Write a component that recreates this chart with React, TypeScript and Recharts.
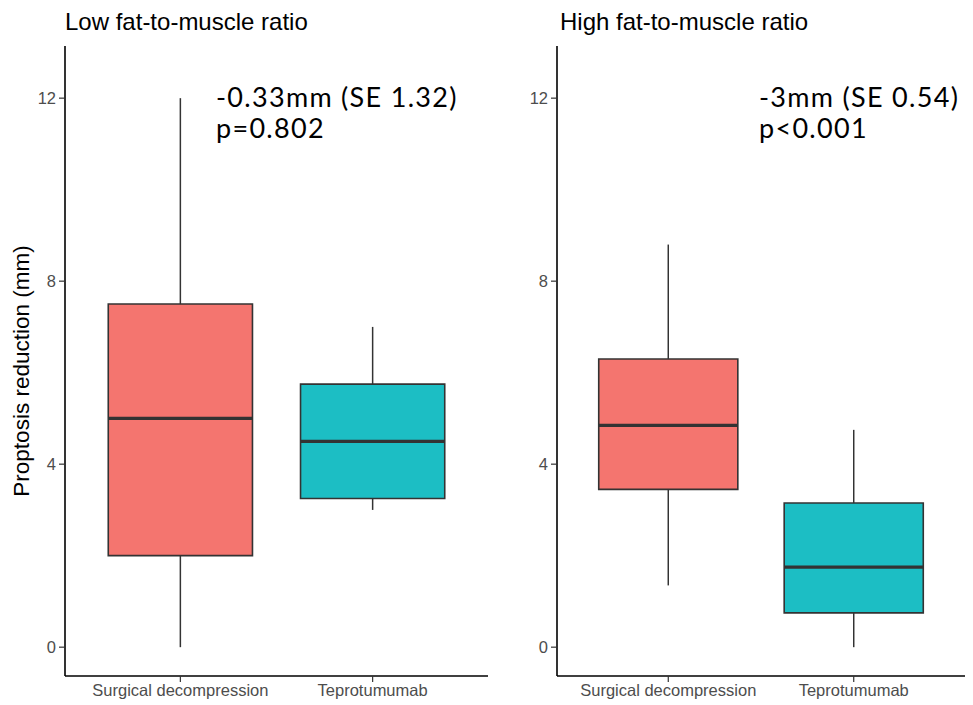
import React from 'react';
import { ComposedChart, XAxis, YAxis, Scatter, ReferenceArea, ReferenceLine } from 'recharts';

// categories and tick labels
const groups = ['Surgical decompression', 'Teprotumumab'];
const yTicks = [0, 4, 8, 12];
const fills = ['#F4756F', '#1CBEC4'];

// low fat-to-muscle ratio (per group: surgical, teprotumumab)
const lowMin = [0, 3];
const lowQ1 = [2, 3.25];
const lowMedian = [5, 4.5];
const lowQ3 = [7.5, 5.75];
const lowMax = [12, 7];

// high fat-to-muscle ratio
const highMin = [1.35, 0];
const highQ1 = [3.45, 0.75];
const highMedian = [4.85, 1.75];
const highQ3 = [6.3, 3.15];
const highMax = [8.8, 4.75];

const FONT = '"Liberation Sans", Arial, sans-serif';
const NOTE_FONT = 'Lato, "Noto Sans", sans-serif';
const HALF = 0.375; // half box width in category units

interface PanelProps {
  mins: number[];
  q1: number[];
  medians: number[];
  q3: number[];
  maxs: number[];
  width: number;
  marginLeft: number;
  marginRight: number;
}

const BoxPanel: React.FC<PanelProps> = ({ mins, q1, medians, q3, maxs, width, marginLeft, marginRight }) => {
  const points = groups.map((g, i) => ({ x: i + 1, y: medians[i], name: g }));
  return (
    <ComposedChart
      width={width}
      height={705}
      data={points}
      margin={{ top: 46, right: marginRight, bottom: 0, left: marginLeft }}
    >
      <XAxis
        type="number"
        dataKey="x"
        domain={[0.4, 2.6]}
        ticks={[1, 2]}
        allowDataOverflow
        tickFormatter={(v: number) => groups[v - 1]}
        height={29}
        axisLine={{ stroke: '#000', strokeWidth: 1.6 }}
        tickLine={{ stroke: '#333', strokeWidth: 1.2 }}
        tickSize={6}
        tickMargin={2}
        tick={{ fill: '#4d4d4d', fontSize: 16.5, fontFamily: FONT }}
      />
      <YAxis
        type="number"
        dataKey="y"
        domain={[-0.63, 13.14]}
        ticks={yTicks}
        allowDataOverflow
        width={30}
        axisLine={{ stroke: '#000', strokeWidth: 1.6 }}
        tickLine={{ stroke: '#333', strokeWidth: 1.2 }}
        tickSize={6}
        tickMargin={3}
        tick={{ fill: '#4d4d4d', fontSize: 16.5, fontFamily: FONT }}
      />
      {groups.map((g, i) => (
        <ReferenceLine
          key={`wl-${g}`}
          segment={[{ x: i + 1, y: mins[i] }, { x: i + 1, y: q1[i] }]}
          stroke="#333"
          strokeWidth={1.5}
        />
      ))}
      {groups.map((g, i) => (
        <ReferenceLine
          key={`wh-${g}`}
          segment={[{ x: i + 1, y: q3[i] }, { x: i + 1, y: maxs[i] }]}
          stroke="#333"
          strokeWidth={1.5}
        />
      ))}
      {groups.map((g, i) => (
        <ReferenceArea
          key={`box-${g}`}
          x1={i + 1 - HALF}
          x2={i + 1 + HALF}
          y1={q1[i]}
          y2={q3[i]}
          fill={fills[i]}
          fillOpacity={1}
          stroke="#333"
          strokeWidth={1.6}
        />
      ))}
      {groups.map((g, i) => (
        <ReferenceLine
          key={`med-${g}`}
          segment={[{ x: i + 1 - HALF, y: medians[i] }, { x: i + 1 + HALF, y: medians[i] }]}
          stroke="#333"
          strokeWidth={3.2}
        />
      ))}
      <Scatter dataKey="y" isAnimationActive={false} shape={() => <g />} />
    </ComposedChart>
  );
};

export default function App() {
  const note = { fontSize: 27, fontFamily: NOTE_FONT, fill: '#000', letterSpacing: 1.3 };
  return (
    <div style={{ position: 'absolute', left: 0, top: 0, width: 973, height: 705, background: '#fff' }}>
      <div style={{ position: 'absolute', left: 0, top: 0 }}>
        <BoxPanel mins={lowMin} q1={lowQ1} medians={lowMedian} q3={lowQ3} maxs={lowMax}
          width={490} marginLeft={35} marginRight={2} />
      </div>
      <div style={{ position: 'absolute', left: 490, top: 0 }}>
        <BoxPanel mins={highMin} q1={highQ1} medians={highMedian} q3={highQ3} maxs={highMax}
          width={483} marginLeft={37} marginRight={8} />
      </div>
      <svg width={973} height={705} style={{ position: 'absolute', left: 0, top: 0, pointerEvents: 'none' }}>
        <text x={65} y={30} fontSize={24} fontFamily={FONT} fill="#000">Low fat-to-muscle ratio</text>
        <text x={560} y={30} fontSize={24} fontFamily={FONT} fill="#000">High fat-to-muscle ratio</text>
        <text x={216} y={107} {...note}>-0.33mm (SE 1.32)</text>
        <text x={216} y={138} {...note}>p=0.802</text>
        <text x={759} y={107} {...note}>-3mm (SE 0.54)</text>
        <text x={759} y={138} {...note}>p&lt;0.001</text>
        <text x={29} y={371} transform="rotate(-90 29 371)" textAnchor="middle" fontSize={22.5} fontFamily={FONT} fill="#000">
          Proptosis reduction (mm)
        </text>
      </svg>
    </div>
  );
}
